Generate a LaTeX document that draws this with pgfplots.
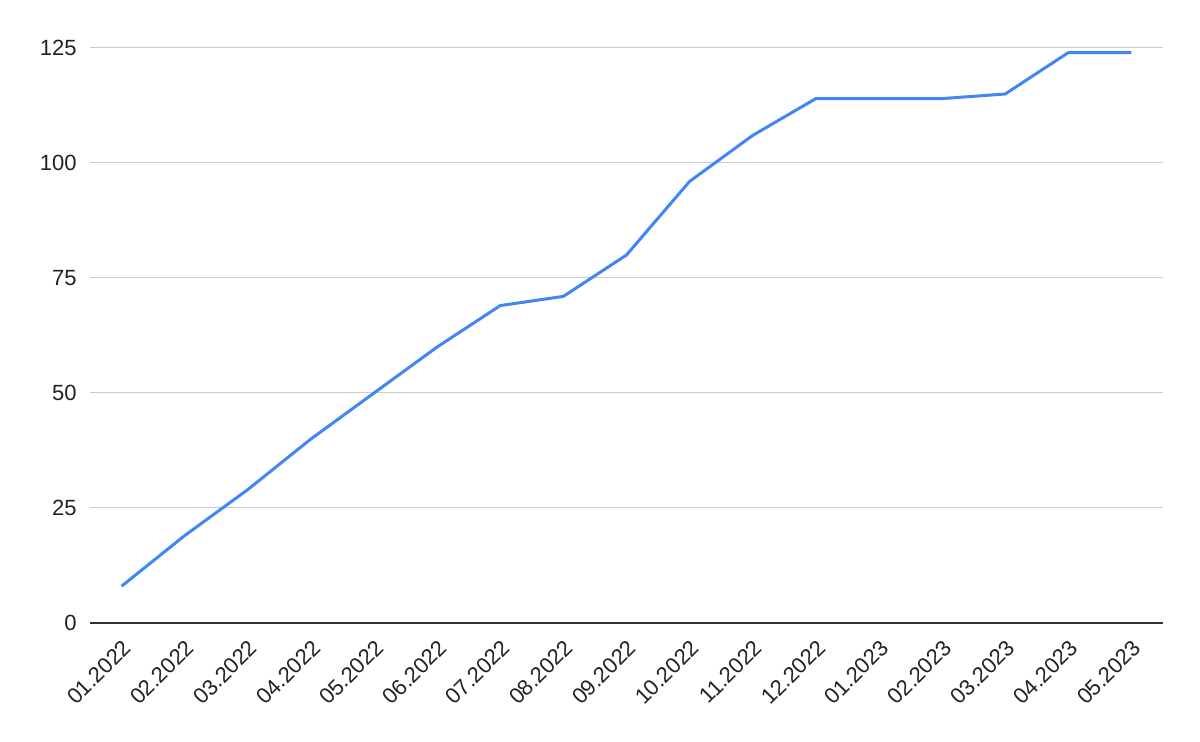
\documentclass[border=0pt]{standalone}
\usepackage{fontspec}
\setmainfont{Liberation Sans}
\usepackage{pgfplots}
\pgfplotsset{compat=1.18}
\definecolor{gblue}{HTML}{4285F4}
\definecolor{gridgrey}{HTML}{CCCCCC}
\definecolor{labgrey}{HTML}{222222}
\definecolor{axgrey}{HTML}{333333}
\begin{document}
\begin{tikzpicture}
\begin{axis}[
  name=ax,
  scale only axis,
  width=536.5pt, height=287.5pt,
  xmin=-0.5, xmax=16.5,
  ymin=0, ymax=125,
  axis x line*=bottom,
  axis y line*=left,
  x axis line style={axgrey, line width=0.75pt, -},
  y axis line style={draw=none},
  ymajorgrids, grid style={gridgrey, line width=0.5pt},
  ytick={0,25,50,75,100,125},
  xtick={0,...,16},
  xticklabels={01.2022,02.2022,03.2022,04.2022,05.2022,06.2022,07.2022,08.2022,09.2022,10.2022,11.2022,12.2022,01.2023,02.2023,03.2023,04.2023,05.2023},
  major tick length=0pt,
  tick style={draw=none},
  /pgf/number format/assume math mode=true,
  ticklabel style={font=\fontsize{11}{13}\selectfont, text=labgrey},
  xticklabel style={xshift=0pt, yshift=-7.5pt, rotate=45, anchor=north east, inner sep=0pt},
  yticklabel style={anchor=east, inner sep=0pt, xshift=-6.5pt},
  clip=false,
]
\addplot[gblue, line width=1.5pt, line join=round] coordinates {
(0,8) (1,19) (2,29) (3,40) (4,50) (5,60) (6,69) (7,71) (8,80)
(9,96) (10,106) (11,114) (12,114) (13,114) (14,115) (15,124) (16,124)
};
\end{axis}
\pgfresetboundingbox
\path (ax.south west) ++(-45pt,-59.5pt) coordinate (bl);
\path (ax.north east) ++(18.5pt,24pt) coordinate (tr);
\path (bl) rectangle (tr);
\end{tikzpicture}
\end{document}
